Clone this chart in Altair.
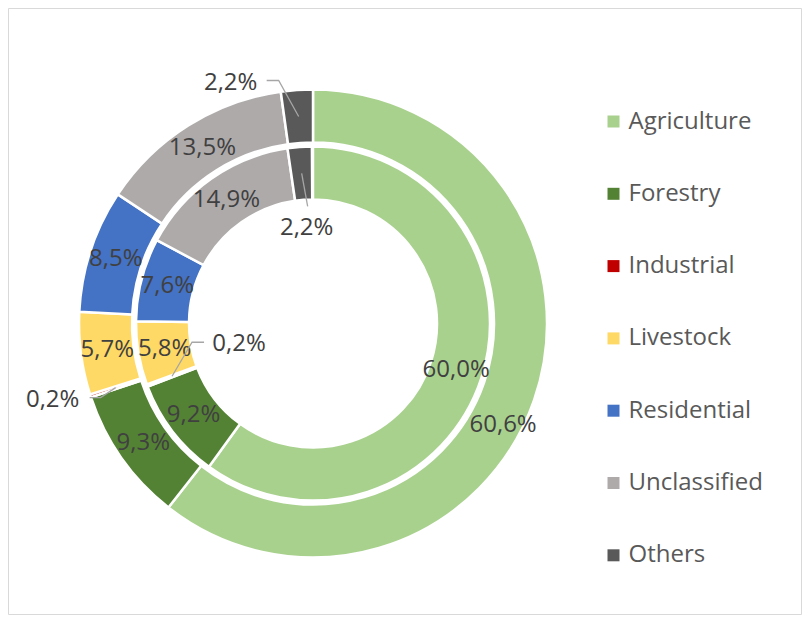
import math
import altair as alt
import pandas as pd

# ---- data ----
categories = ["Agriculture", "Forestry", "Industrial", "Livestock",
              "Residential", "Unclassified", "Others"]
outer_values = [60.6, 9.3, 0.2, 5.7, 8.5, 13.5, 2.2]
inner_values = [60.0, 9.2, 0.2, 5.8, 7.6, 14.9, 2.2]
colors = ["#A9D18E", "#548235", "#C00000", "#FFD966",
          "#4472C4", "#AEAAAA", "#595959"]

# ---- geometry / style ----
CX, CY = 305, 315.5
R_OUT = (181, 234)
R_IN = (124, 177)
TOTAL = max(sum(outer_values), sum(inner_values))
FONT = "Open Sans"
LABEL_COLOR = "#404040"

# labels moved away from the slice centre (offsets from the slice's mid point),
# with optional leader-line path
label_offsets = {
    ("outer", "Agriculture"): {"path": [], "label": (-6, 34)},
    ("outer", "Others"): {"path": [(0, 0), (-20, -36), (-32, -36)], "label": (-68, -33)},
    ("inner", "Others"): {"path": [(0, 0), (6, 33)], "label": (5, 55)},
    ("outer", "Industrial"): {"path": [(0, 0), (-15, 10), (-26, 10)], "label": (-63, 12)},
    ("inner", "Industrial"): {"path": [(0, 0), (20, -34), (32, -34)], "label": (67, -32)},
}


def fmt(v):
    return f"{v:.1f}".replace(".", ",") + "%"


def ring_df(values, ring):
    rows = []
    cum = 0.0
    for i, (c, v) in enumerate(zip(categories, values)):
        mid = (cum + v / 2) / TOTAL * 2 * math.pi
        cum += v
        rows.append(dict(ring=ring, idx=i, category=c, value=v, label=fmt(v),
                         in_label="" if (ring, c) in label_offsets else fmt(v),
                         mid=mid))
    return pd.DataFrame(rows)


outer_df = ring_df(outer_values, "outer")
inner_df = ring_df(inner_values, "inner")

line_rows, lab_rows = [], []
for df, (r0, r1) in ((outer_df, R_OUT), (inner_df, R_IN)):
    rm = (r0 + r1) / 2
    for _, row in df.iterrows():
        key = (row["ring"], row["category"])
        if key not in label_offsets:
            continue
        sx = CX + rm * math.sin(row["mid"])
        sy = CY - rm * math.cos(row["mid"])
        spec = label_offsets[key]
        for j, (dx, dy) in enumerate(spec["path"]):
            line_rows.append(dict(key="-".join(key), pt=j, x=sx + dx, y=sy + dy))
        lx, ly = spec["label"]
        lab_rows.append(dict(key="-".join(key), x=sx + lx, y=sy + ly, label=row["label"]))
lines_df = pd.DataFrame(line_rows)
labs_df = pd.DataFrame(lab_rows)

theta_scale = alt.Scale(domain=[0, TOTAL], nice=False)
color = alt.Color(
    "category:N",
    scale=alt.Scale(domain=categories, range=colors),
    legend=alt.Legend(
        title=None, orient="none", legendX=593.5, legendY=101.5,
        symbolType="square", symbolSize=144, symbolStrokeWidth=0,
        symbolOpacity=1, labelFont=FONT, labelFontSize=24,
        labelColor="#595959", rowPadding=48.3, labelOffset=3,
        labelLimit=300,
    ),
)


def ring(df, radii, label_r):
    base = alt.Chart(df).encode(
        theta=alt.Theta("value:Q", stack=True, scale=theta_scale),
        order=alt.Order("idx:Q"),
        x=alt.value(CX),
        y=alt.value(CY),
    )
    arc = base.mark_arc(innerRadius=radii[0], outerRadius=radii[1],
                        stroke="white", strokeWidth=2.5).encode(color=color)
    txt = base.mark_text(radius=label_r, font=FONT, fontSize=24,
                         color=LABEL_COLOR).encode(text="in_label:N")
    return arc, txt


o_arc, o_txt = ring(outer_df, R_OUT, sum(R_OUT) / 2)
i_arc, i_txt = ring(inner_df, R_IN, sum(R_IN) / 2)

leaders = alt.Chart(lines_df).mark_line(color="#A6A6A6", strokeWidth=1.3).encode(
    x=alt.X("x:Q", scale=None, axis=None),
    y=alt.Y("y:Q", scale=None, axis=None),
    detail="key:N",
    order="pt:Q",
)
out_labels = alt.Chart(labs_df).mark_text(
    font=FONT, fontSize=24, color=LABEL_COLOR, align="center", baseline="middle"
).encode(
    x=alt.X("x:Q", scale=None, axis=None),
    y=alt.Y("y:Q", scale=None, axis=None),
    text="label:N",
)

chart = alt.layer(o_arc, i_arc, o_txt, i_txt, leaders, out_labels).properties(
    width=793, height=606,
    padding={"left": 0, "top": 0, "right": 2, "bottom": 2},
    autosize="none",
).configure_view(stroke="#D9D9D9", strokeWidth=1)

chart.save("out.html", embed_options={"renderer": "svg", "actions": False})
